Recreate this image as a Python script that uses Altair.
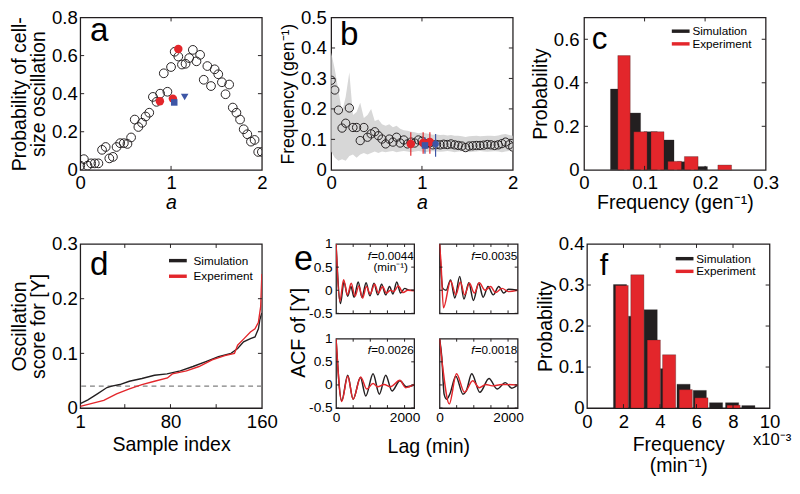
import altair as alt
import pandas as pd

FONT = "Liberation Sans"
BLACK = "#231f20"
RED = "#e3262b"
BLUE = "#3d56a6"
BAND = "#d7d7d7"
DASH = "#808080"
SERIES = ["Simulation", "Experiment"]

# ---------------- panel a ----------------
a_grid = [0.00, 0.04, 0.08, 0.12, 0.16, 0.20, 0.24, 0.28, 0.32, 0.36, 0.40, 0.44, 0.48, 0.52, 0.56,
          0.60, 0.64, 0.68, 0.72, 0.76, 0.80, 0.84, 0.88, 0.92, 0.96, 1.00, 1.04, 1.08, 1.12, 1.16,
          1.20, 1.24, 1.28, 1.32, 1.36, 1.40, 1.44, 1.48, 1.52, 1.56, 1.60, 1.64, 1.68, 1.72, 1.76,
          1.80, 1.84, 1.88, 1.92, 1.96, 2.00]
a_prob = [0.022, 0.056, 0.022, 0.034, 0.034, 0.034, 0.105, 0.120, 0.060, 0.068, 0.120, 0.140, 0.140,
          0.136, 0.170, 0.264, 0.225, 0.247, 0.280, 0.300, 0.383, 0.357, 0.400, 0.507, 0.410, 0.540,
          0.620, 0.595, 0.553, 0.557, 0.587, 0.630, 0.570, 0.604, 0.473, 0.545, 0.440, 0.528, 0.502,
          0.460, 0.397, 0.448, 0.327, 0.300, 0.264, 0.213, 0.187, 0.148, 0.157, 0.094, 0.094]
a_red_x = [0.877, 1.02, 1.08]
a_red_y = [0.360, 0.374, 0.635]
a_sq_x = [1.035]
a_sq_y = [0.354]
a_tri_x = [1.15]
a_tri_y = [0.383]

# ---------------- panel b ----------------
b_freq = [0.294, 0.262, 0.196, 0.137, 0.153, 0.203, 0.139, 0.139, 0.096, 0.139, 0.107, 0.118, 0.125,
          0.112, 0.101, 0.085, 0.101, 0.091, 0.107, 0.088, 0.098, 0.085, 0.091, 0.088, 0.098, 0.094,
          0.085, 0.088, 0.082, 0.083, 0.082, 0.084, 0.083, 0.085, 0.082, 0.080, 0.078, 0.073, 0.078,
          0.079, 0.080, 0.080, 0.081, 0.083, 0.082, 0.080, 0.082, 0.086, 0.091, 0.082, 0.075]
b_upper = [0.385, 0.33, 0.26, 0.19, 0.24, 0.32, 0.18, 0.19, 0.22, 0.17, 0.18, 0.20, 0.16, 0.165,
           0.15, 0.145, 0.15, 0.14, 0.145, 0.135, 0.13, 0.128, 0.125, 0.123, 0.12, 0.122, 0.12,
           0.118, 0.115, 0.116, 0.114, 0.115, 0.113, 0.114, 0.112, 0.112, 0.110, 0.108, 0.110,
           0.111, 0.112, 0.110, 0.111, 0.112, 0.112, 0.111, 0.113, 0.116, 0.118, 0.114, 0.112]
b_lower = [0.06, 0.04, 0.03, 0.035, 0.03, 0.045, 0.05, 0.04, 0.05, 0.055, 0.05, 0.055, 0.06, 0.055,
           0.06, 0.058, 0.06, 0.062, 0.058, 0.06, 0.062, 0.06, 0.058, 0.06, 0.062, 0.06, 0.058,
           0.06, 0.061, 0.06, 0.059, 0.06, 0.062, 0.06, 0.058, 0.06, 0.061, 0.06, 0.058, 0.059,
           0.06, 0.062, 0.06, 0.059, 0.06, 0.061, 0.06, 0.058, 0.06, 0.062, 0.06]
b_red_x = [0.877, 1.013, 1.087]
b_red_y = [0.085, 0.088, 0.091]
b_red_lo = [0.046, 0.053, 0.053]
b_red_hi = [0.123, 0.123, 0.123]
b_blue_x = [1.033, 1.15]
b_blue_y = [0.080, 0.085]
b_blue_lo = [0.053, 0.043]
b_blue_hi = [0.107, 0.118]

# ---------------- panel c ----------------
c_sim_lo = [0.0437, 0.0713, 0.0989, 0.1265, 0.1541, 0.1817]
c_sim_hi = [0.0658, 0.0934, 0.1210, 0.1486, 0.1762, 0.2038]
c_sim_p = [0.371, 0.261, 0.175, 0.137, 0.037, 0.015]
c_exp_lo = [0.0558, 0.0821, 0.1105, 0.1384, 0.1658, 0.2211]
c_exp_hi = [0.0763, 0.1042, 0.1321, 0.1610, 0.1884, 0.2437]
c_exp_p = [0.525, 0.175, 0.175, 0.039, 0.061, 0.022]

# ---------------- panel d ----------------
d_sim_i = [1, 7.7, 16, 24.4, 28.6, 35.6, 44, 55, 66, 77, 88.6, 99.7, 111, 122, 133, 138.8, 144,
           150, 154, 157, 158.3, 160]
d_sim_v = [0.008, 0.015, 0.026, 0.0375, 0.040, 0.043, 0.049, 0.054, 0.060, 0.0625, 0.068, 0.076,
           0.085, 0.094, 0.100, 0.109, 0.121, 0.127, 0.130, 0.145, 0.162, 0.174]
d_exp_i = [1, 10.5, 21.6, 32.8, 44, 55, 66, 77.4, 81.6, 94, 105, 116.5, 127.6, 136, 138.8, 144.4,
           150, 154, 157, 159, 160]
d_exp_v = [0.003, 0.008, 0.014, 0.026, 0.035, 0.043, 0.049, 0.055, 0.0625, 0.068, 0.076, 0.088,
           0.096, 0.100, 0.115, 0.127, 0.139, 0.145, 0.157, 0.186, 0.245]
d_threshold = [0.04]

# ---------------- panel e ----------------
e1_lag_s = [0, 130, 230, 340, 435, 525, 646, 757, 877, 988, 1108, 1218, 1329, 1449, 1560, 1661,
            1772, 1883, 2003, 2141, 2280]
e1_sim = [1.0, -0.29, 0.18, -0.13, 0.08, -0.15, 0.18, -0.15, 0.16, -0.12, 0.15, -0.10, 0.13,
          -0.10, 0.08, -0.08, 0.18, -0.06, 0.04, 0.0, 0.0]
e1_lag_e = [0, 111, 221, 332, 443, 554, 665, 775, 886, 997, 1126, 1237, 1357, 1468, 1588, 1680,
            1818, 1957, 2095, 2280]
e1_exp = [1.0, -0.24, 0.23, -0.10, 0.15, -0.13, 0.09, -0.17, 0.08, -0.08, 0.13, -0.06, 0.08,
          -0.06, 0.0, -0.03, 0.09, -0.05, 0.0, -0.01]
e2_lag_s = [0, 95, 190, 323, 446, 589, 712, 855, 988, 1140, 1273, 1415, 1567, 1729, 1871, 2014, 2280]
e2_sim = [1.0, 0.04, 0.0, 0.22, -0.17, 0.30, -0.19, 0.16, -0.22, 0.15, -0.15, 0.08, -0.10, 0.08,
          -0.06, 0.02, 0.0]
e2_lag_e = [0, 38, 114, 323, 475, 608, 731, 874, 1016, 1159, 1330, 1491, 1634, 1824, 2014, 2280]
e2_exp = [1.0, 0.64, -0.38, 0.20, -0.10, 0.18, -0.10, 0.15, -0.06, 0.16, 0.0, 0.08, -0.05, 0.04,
          -0.03, 0.0]
e3_lag_s = [0, 166, 341, 498, 711, 868, 1080, 1264, 1449, 1634, 1864, 2049, 2280]
e3_sim = [1.0, -0.34, 0.21, -0.31, 0.16, -0.24, 0.24, -0.20, 0.21, -0.13, 0.09, -0.04, 0.0]
e3_lag_e = [0, 166, 341, 498, 720, 895, 1080, 1218, 1403, 1588, 1864, 2031, 2280]
e3_exp = [1.0, -0.36, 0.19, -0.31, 0.17, -0.09, 0.03, -0.04, 0.01, -0.04, 0.10, -0.06, 0.01]
e4_lag_s = [0, 67, 133, 209, 304, 475, 684, 779, 940, 1178, 1444, 1681, 1919, 2109, 2280]
e4_sim = [1.0, 0.59, -0.20, -0.31, -0.19, 0.19, -0.20, -0.13, 0.24, -0.16, 0.14, -0.09, 0.05,
          -0.07, 0.0]
e4_lag_e = [0, 95, 285, 494, 731, 969, 1159, 1349, 1539, 1824, 2280]
e4_exp = [1.0, 0.37, -0.41, 0.24, -0.16, 0.09, -0.06, 0.01, -0.02, 0.01, 0.0]
e_freq_text = ["=0.0044", "=0.0035", "=0.0026", "=0.0018"]

# ---------------- panel f ----------------
f_sim_lo = [1.45, 2.27, 3.13, 4.02, 4.93, 5.82, 6.71, 7.59, 8.48]
f_sim_hi = [2.17, 2.99, 3.85, 4.74, 5.65, 6.54, 7.43, 8.31, 9.20]
f_sim_p = [0.301, 0.224, 0.240, 0.096, 0.058, 0.043, 0.013, 0.013, 0.006]
f_exp_lo = [1.56, 2.40, 3.30, 4.14, 5.05, 5.91, 7.67]
f_exp_hi = [2.26, 3.12, 4.02, 4.86, 5.77, 6.63, 8.39]
f_exp_p = [0.299, 0.325, 0.166, 0.130, 0.045, 0.025, 0.007]

LBL = "datum.value + ''"


def cscale():
    return alt.Scale(domain=SERIES, range=[BLACK, RED])


def frame_ticks(xs, ys, X, Y, w, h, L=4):
    cx = alt.Chart(pd.DataFrame({"x": xs}))
    cy = alt.Chart(pd.DataFrame({"y": ys}))
    return [
        cx.mark_rule(color=BLACK, strokeWidth=1).encode(x=X, y=alt.value(h), y2=alt.value(h - L)),
        cx.mark_rule(color=BLACK, strokeWidth=1).encode(x=X, y=alt.value(0), y2=alt.value(L)),
        cy.mark_rule(color=BLACK, strokeWidth=1).encode(y=Y, x=alt.value(0), x2=alt.value(L)),
        cy.mark_rule(color=BLACK, strokeWidth=1).encode(y=Y, x=alt.value(w - L), x2=alt.value(w)),
    ]


def text_at(s, x, y, size, align="left", baseline="alphabetic", style="normal", angle=0):
    return alt.Chart(pd.DataFrame({"t": [s]})).mark_text(
        font=FONT, fontSize=size, align=align, baseline=baseline, fontStyle=style,
        angle=angle, color="black"
    ).encode(text="t:N", x=alt.value(x), y=alt.value(y))


def legend(x, y, line=False, offset=5):
    return alt.Legend(
        orient="none", legendX=x, legendY=y, title=None, direction="vertical",
        symbolType="M-1.3,0H1.3" if line else "M-1.3,-0.25H1.3V0.25H-1.3Z",
        symbolSize=196, symbolStrokeWidth=3.5 if line else 0,
        labelFontSize=12, labelFont=FONT, labelColor="black", labelOffset=offset,
        rowPadding=0, padding=0,
    )


# ---------------- build a ----------------
W, H = 186, 156
Xa = alt.X("x:Q", scale=alt.Scale(domain=[0, 2], nice=False),
           axis=alt.Axis(values=[0, 1, 2], labelExpr=LBL, title="a", titleFontStyle="italic",
                         labelPadding=4, titlePadding=1))
Ya = alt.Y("y:Q", scale=alt.Scale(domain=[0, 0.8], nice=False),
           axis=alt.Axis(values=[0, 0.2, 0.4, 0.6, 0.8], labelExpr=LBL,
                         title=["Probability of cell-", "size oscillation"], titleLineHeight=20,
                         labelPadding=3, titlePadding=3))
pa = alt.layer(
    alt.Chart(pd.DataFrame({"x": a_grid, "y": a_prob})).mark_point(
        shape="circle", filled=False, color=BLACK, strokeWidth=1, size=80, opacity=1, clip=True
    ).encode(x=Xa, y=Ya),
    alt.Chart(pd.DataFrame({"x": a_red_x, "y": a_red_y})).mark_point(
        shape="circle", filled=True, color=RED, size=75, opacity=1).encode(x=Xa, y=Ya),
    alt.Chart(pd.DataFrame({"x": a_sq_x, "y": a_sq_y})).mark_point(
        shape="square", filled=True, color=BLUE, size=45, opacity=1).encode(x=Xa, y=Ya),
    alt.Chart(pd.DataFrame({"x": a_tri_x, "y": a_tri_y})).mark_point(
        shape="triangle-down", filled=True, color=BLUE, size=60, opacity=1).encode(x=Xa, y=Ya),
    *frame_ticks([1], [0.2, 0.4, 0.6], Xa, Ya, W, H),
    text_at("a", 10, 24, 34),
).properties(width=W, height=H)

# ---------------- build b ----------------
Xb = alt.X("x:Q", scale=alt.Scale(domain=[0, 2], nice=False),
           axis=alt.Axis(values=[0, 1, 2], labelExpr=LBL, title="a", titleFontStyle="italic",
                         labelPadding=4, titlePadding=1))
Yb = alt.Y("y:Q", scale=alt.Scale(domain=[0, 0.5], nice=False),
           axis=alt.Axis(values=[0, 0.1, 0.2, 0.3, 0.4, 0.5], labelExpr=LBL,
                         title="Frequency (gen\u207b\u00b9)", titleFontSize=18,
                         labelPadding=5, titlePadding=3))
pb = alt.layer(
    alt.Chart(pd.DataFrame({"x": a_grid, "y": b_lower, "y2": b_upper})).mark_area(
        color=BAND, opacity=1, clip=True).encode(x=Xb, y=Yb, y2="y2:Q"),
    alt.Chart(pd.DataFrame({"x": a_grid, "y": b_freq})).mark_point(
        shape="circle", filled=False, color=BLACK, strokeWidth=1, size=72, opacity=1, clip=True
    ).encode(x=Xb, y=Yb),
    alt.Chart(pd.DataFrame({"x": b_red_x, "y": b_red_lo, "y2": b_red_hi})).mark_rule(
        color=RED, strokeWidth=1.2).encode(x=Xb, y=Yb, y2="y2:Q"),
    alt.Chart(pd.DataFrame({"x": b_blue_x, "y": b_blue_lo, "y2": b_blue_hi})).mark_rule(
        color=BLUE, strokeWidth=1.2).encode(x=Xb, y=Yb, y2="y2:Q"),
    alt.Chart(pd.DataFrame({"x": b_red_x, "y": b_red_y})).mark_point(
        shape="circle", filled=True, color=RED, size=75, opacity=1).encode(x=Xb, y=Yb),
    alt.Chart(pd.DataFrame({"x": b_blue_x[:1], "y": b_blue_y[:1]})).mark_point(
        shape="square", filled=True, color=BLUE, size=45, opacity=1).encode(x=Xb, y=Yb),
    alt.Chart(pd.DataFrame({"x": b_blue_x[1:], "y": b_blue_y[1:]})).mark_point(
        shape="circle", filled=True, color=BLUE, size=45, opacity=1).encode(x=Xb, y=Yb),
    *frame_ticks([1], [0.1, 0.2, 0.3, 0.4], Xb, Yb, W, H),
    text_at("b", 9, 28, 34),
).properties(width=W, height=H)

# ---------------- build c ----------------
Xc = alt.X("x:Q", scale=alt.Scale(domain=[0, 0.3], nice=False),
           axis=alt.Axis(values=[0, 0.1, 0.2, 0.3], labelExpr=LBL, title="Frequency (gen\u207b\u00b9)",
                         labelPadding=4, titlePadding=1))
Yc = alt.Y("y:Q", scale=alt.Scale(domain=[0, 0.7], nice=False),
           axis=alt.Axis(values=[0, 0.2, 0.4, 0.6], labelExpr=LBL, title="Probability",
                         labelPadding=5, titlePadding=3))
c_df = pd.concat([
    pd.DataFrame({"x": c_sim_lo, "x2": c_sim_hi, "y": c_sim_p, "s": "Simulation"}),
    pd.DataFrame({"x": c_exp_lo, "x2": c_exp_hi, "y": c_exp_p, "s": "Experiment"}),
], ignore_index=True)
pc = alt.layer(
    alt.Chart(c_df).mark_rect(stroke=BLACK, strokeWidth=0.5, strokeOpacity=0.6).encode(
        x=Xc, x2="x2:Q", y=Yc, y2=alt.datum(0),
        color=alt.Color("s:N", scale=cscale(), legend=legend(92, 7, offset=5))),
    *frame_ticks([0.1, 0.2], [0.2, 0.4, 0.6], Xc, Yc, W, H),
    text_at("c", 8, 32, 32),
).properties(width=W, height=H)

# ---------------- build d ----------------
WD, HD = 186, 168
Xd = alt.X("x:Q", scale=alt.Scale(domain=[1, 160], nice=False),
           axis=alt.Axis(values=[1, 80, 160], labelExpr=LBL, title="Sample index",
                         labelPadding=5, titlePadding=3))
Yd = alt.Y("y:Q", scale=alt.Scale(domain=[0, 0.3], nice=False),
           axis=alt.Axis(values=[0, 0.1, 0.2, 0.3], labelExpr=LBL,
                         title=["Oscillation", "score for [Y]"], titleLineHeight=20,
                         labelPadding=3, titlePadding=3))
d_leg = legend(91, 8, line=True, offset=7)
pd_ = alt.layer(
    alt.Chart(pd.DataFrame({"y": d_threshold})).mark_rule(
        color=DASH, strokeWidth=1.2, strokeDash=[5, 4]).encode(y=Yd),
    alt.Chart(pd.DataFrame({"x": d_sim_i, "y": d_sim_v, "s": "Simulation"})).mark_line(
        strokeWidth=1.4, clip=True).encode(
        x=Xd, y=Yd, color=alt.Color("s:N", scale=cscale(), legend=d_leg)),
    alt.Chart(pd.DataFrame({"x": d_exp_i, "y": d_exp_v, "s": "Experiment"})).mark_line(
        strokeWidth=1.4, clip=True).encode(
        x=Xd, y=Yd, color=alt.Color("s:N", scale=cscale(), legend=d_leg)),
    *frame_ticks([40, 80, 120], [0.1, 0.2], Xd, Yd, WD, HD),
    text_at("d", 10, 32, 34),
).properties(width=WD, height=HD)

# ---------------- build e ----------------
EW, EH = 80, 71
ECOL, EROW = 26, 26


def e_cell(lag_s, acf_s, lag_e, acf_e, ftxt, xlab, ylab, units=False, tag=False, lag_title=False):
    xax = alt.Axis(values=[0, 2000], labelExpr=LBL, title=None, labelFontSize=14,
                   labelPadding=3) if xlab else None
    yax = alt.Axis(values=[-0.5, 0, 0.5, 1], labelExpr=LBL, title=None, labelFontSize=14,
                   labelPadding=4) if ylab else None
    X = alt.X("x:Q", scale=alt.Scale(domain=[0, 2280], nice=False), axis=xax)
    Y = alt.Y("y:Q", scale=alt.Scale(domain=[-0.5, 1], nice=False), axis=yax)
    layers = [
        alt.Chart(pd.DataFrame({"x": lag_s, "y": acf_s})).mark_line(
            color=BLACK, strokeWidth=1.5, interpolate="monotone", clip=True).encode(x=X, y=Y),
        alt.Chart(pd.DataFrame({"x": lag_e, "y": acf_e})).mark_line(
            color=RED, strokeWidth=1.5, interpolate="monotone", clip=True).encode(x=X, y=Y),
        *frame_ticks([500, 1000, 1500, 2000], [-0.5, 0, 0.5], X, Y, EW, EH, L=3),
        text_at("f", 32.5, 12, 12, baseline="middle", style="italic"),
        text_at(ftxt, 36, 12, 12, baseline="middle"),
    ]
    if units:
        layers.append(text_at("(min\u207b\u00b9)", 56, 24, 12, align="center", baseline="middle"))
    if tag:
        layers.append(text_at("e", -43, 27, 35))
        layers.append(text_at("ACF of [Y]", -37.5, 91, 20, align="center",
                              baseline="middle", angle=270))
    if lag_title:
        layers.append(text_at("Lag (min)", 95, EH + 40, 20, align="center",
                              baseline="middle"))
    return alt.layer(*layers).properties(width=EW, height=EH)


e1 = e_cell(e1_lag_s, e1_sim, e1_lag_e, e1_exp, e_freq_text[0], False, True, units=True, tag=True)
e2 = e_cell(e2_lag_s, e2_sim, e2_lag_e, e2_exp, e_freq_text[1], False, False)
e3 = e_cell(e3_lag_s, e3_sim, e3_lag_e, e3_exp, e_freq_text[2], True, True, lag_title=True)
e4 = e_cell(e4_lag_s, e4_sim, e4_lag_e, e4_exp, e_freq_text[3], True, False)

e_grid = alt.concat(e1, e2, e3, e4, columns=2, align="all", bounds="flush",
                    spacing={"row": EROW, "column": ECOL})

# ---------------- build f ----------------
WF, HF = 187, 168
Xf = alt.X("x:Q", scale=alt.Scale(domain=[0, 10], nice=False),
           axis=alt.Axis(values=[0, 2, 4, 6, 8, 10], labelExpr=LBL,
                         title=["Frequency", "(min\u207b\u00b9)"], titleLineHeight=22,
                         labelPadding=5, titlePadding=3))
Yf = alt.Y("y:Q", scale=alt.Scale(domain=[0, 0.4], nice=False),
           axis=alt.Axis(values=[0, 0.1, 0.2, 0.3, 0.4], labelExpr=LBL, title="Probability",
                         labelPadding=3, titlePadding=3))
f_df = pd.concat([
    pd.DataFrame({"x": f_sim_lo, "x2": f_sim_hi, "y": f_sim_p, "s": "Simulation"}),
    pd.DataFrame({"x": f_exp_lo, "x2": f_exp_hi, "y": f_exp_p, "s": "Experiment"}),
], ignore_index=True)
pf = alt.layer(
    alt.Chart(f_df).mark_rect(stroke=BLACK, strokeWidth=0.5, strokeOpacity=0.6).encode(
        x=Xf, x2="x2:Q", y=Yf, y2=alt.datum(0),
        color=alt.Color("s:N", scale=cscale(), legend=legend(93, 8, offset=5))),
    *frame_ticks([2, 4, 6, 8], [0.1, 0.2, 0.3], Xf, Yf, WF, HF),
    text_at("f", 13, 32, 31),
    text_at("x10\u207b\u00b3", 170, HF + 33, 17, baseline="middle"),
).properties(width=WF, height=HF)

# ---------------- assemble ----------------
row1 = alt.hconcat(pa, pb, pc, spacing=11).resolve_scale(color="independent")
row2 = alt.hconcat(pd_, e_grid, pf, spacing=10).resolve_scale(color="independent")

chart = alt.vconcat(row1, row2, spacing=21).resolve_scale(color="independent").properties(
    padding={"left": 0, "top": -6, "right": 0, "bottom": 0}, background="white"
).configure(font=FONT).configure_view(
    stroke=BLACK, strokeWidth=1.3
).configure_axis(
    labelFont=FONT, titleFont=FONT, labelFontSize=19, titleFontSize=20, labelColor="black",
    titleColor="black", titleFontWeight="normal", ticks=False, tickSize=0, domain=False,
    grid=False, labelFlush=False, labelOverlap=False
).configure_legend(
    labelFont=FONT
)

chart.save("out.html", embed_options={"renderer": "svg", "actions": False})
